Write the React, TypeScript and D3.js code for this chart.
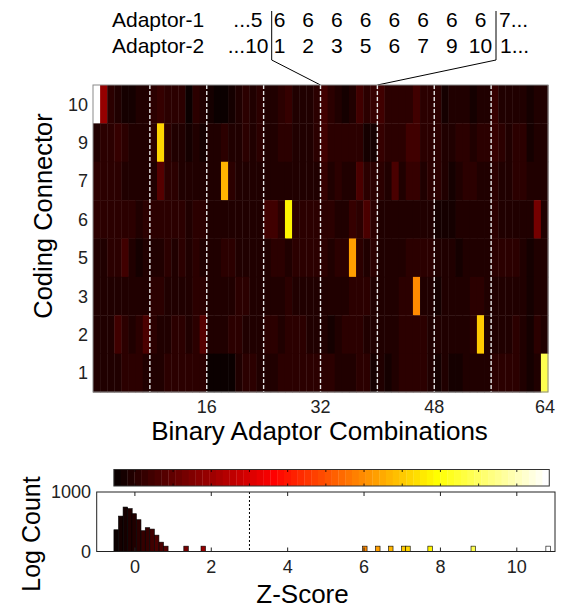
import React from "react";
import * as d3 from "d3";

// rows of the heat map, top to bottom
const rowLabels = ["10", "9", "7", "6", "5", "3", "2", "1"];

// z-scores per row, 64 binary adaptor combinations each
const zRow10 = [10.82, 1.79, 0.15, -0.11, -0.21, -0.21, -0.18, -0.15, 0.15, 0.25, 0.15, 0.02, -0.01, -0.38, 0.12, -0.08,
  -0.28, -0.42, -0.42, -0.28, -0.08, -0.01, -0.11, 0.02, -0.05, -0.05, 0.02, 0.19, -0.11, -0.18, -0.05, -0.01,
  0.42, 0.15, -0.11, -0.35, -0.05, 0.39, -0.01, 0.19, 0.39, 0.15, 0.05, -0.01, 0.12, 0.39, 0.15, -0.01,
  -0.01, -0.28, -0.11, -0.08, -0.11, -0.28, -0.05, -0.11, 0.19, -0.05, -0.05, -0.08, -0.05, -0.35, -0.05, -0.05];
const zRow9 = [-0.05, 0.15, -0.01, 0.19, 0.02, -0.05, -0.05, -0.05, 0.05, 7.15, 0.02, -0.05, -0.11, -0.35, -0.11, -0.32,
  -0.05, -0.05, -0.01, -0.05, -0.11, -0.01, -0.05, 0.05, -0.05, -0.05, 0.05, 0.12, -0.11, -0.05, -0.05, -0.01,
  0.42, 0.05, 0.02, 0.02, -0.01, -0.01, -0.35, -0.35, 0.19, -0.01, -0.01, 0.12, 0.39, 0.42, 0.12, -0.01,
  -0.01, -0.11, -0.08, -0.01, -0.01, -0.08, -0.01, -0.01, 0.19, 0.05, -0.08, -0.01, -0.01, -0.28, -0.05, -0.05];
const zRow7 = [0.09, 0.09, 0.09, 0.09, -0.18, -0.18, -0.18, -0.18, -0.05, 0.74, 0.09, 0.02, -0.11, -0.15, -0.11, -0.15,
  -0.15, -0.05, 6.7, -0.01, -0.15, -0.05, -0.05, -0.05, -0.05, -0.11, -0.11, -0.11, -0.11, -0.05, -0.05, -0.05,
  0.19, -0.05, -0.01, -0.11, -0.05, 0.69, -0.01, 0.05, 0.12, -0.11, 0.59, -0.15, 0.19, 0.19, -0.15, -0.01,
  -0.01, -0.05, -0.28, -0.05, -0.01, 0.02, -0.05, -0.05, -0.01, -0.11, -0.05, -0.01, -0.01, -0.05, -0.05, -0.05];
const zRow6 = [-0.01, -0.01, -0.01, -0.01, -0.01, -0.01, -0.11, -0.01, 0.02, 0.02, 0.02, 0.02, 0.02, -0.15, 0.02, 0.02,
  -0.15, -0.15, -0.15, -0.15, -0.11, -0.05, -0.05, -0.05, 0.39, 0.39, 0.02, 7.73, -0.01, -0.01, -0.01, -0.01,
  0.15, -0.01, -0.15, -0.11, 0.19, -0.01, 0.59, -0.01, -0.05, -0.05, -0.05, -0.11, -0.05, -0.05, -0.05, -0.05,
  -0.21, -0.21, -0.21, -0.05, -0.05, -0.05, -0.05, -0.05, -0.01, -0.05, -0.05, -0.05, -0.05, -0.18, 1.34, -0.05];
const zRow5 = [-0.18, -0.05, -0.01, 0.12, 0.36, -0.05, -0.28, -0.15, -0.05, -0.11, 0.02, -0.11, 0.05, -0.05, 0.02, -0.05,
  -0.11, -0.11, -0.01, 0.12, -0.05, -0.05, -0.11, -0.18, -0.05, 0.02, 0.02, -0.05, -0.01, -0.01, -0.01, -0.01,
  -0.01, -0.05, -0.01, -0.01, 6.36, -0.01, -0.05, -0.01, -0.05, -0.05, -0.05, -0.05, 0.12, 0.02, 0.02, 0.02,
  -0.11, -0.05, -0.05, -0.21, -0.05, -0.05, -0.05, -0.05, -0.01, 0.02, 0.02, 0.02, -0.15, -0.28, -0.05, -0.05];
const zRow3 = [-0.11, -0.11, -0.05, -0.05, -0.05, -0.11, -0.11, -0.11, -0.01, 0.15, -0.05, -0.05, -0.05, -0.11, 0.15, -0.01,
  -0.11, -0.11, -0.11, -0.11, 0.15, 0.02, -0.11, -0.11, -0.15, -0.05, -0.05, 0.02, -0.05, -0.05, -0.05, -0.05,
  -0.05, -0.15, -0.05, -0.05, 0.12, -0.01, 0.15, -0.05, -0.11, -0.11, -0.11, -0.01, 0.15, 6.02, -0.05, -0.15,
  -0.21, -0.05, -0.05, -0.05, -0.05, -0.01, 0.15, -0.11, -0.05, -0.05, -0.05, -0.05, -0.11, -0.28, -0.05, -0.05];
const zRow2 = [-0.11, -0.11, -0.15, 0.42, 0.15, -0.05, 0.12, 0.69, -0.01, -0.05, -0.05, 0.05, 0.12, -0.05, 0.15, 0.79,
  -0.05, -0.15, -0.05, 0.15, 0.12, -0.05, -0.11, -0.15, 0.02, 0.15, -0.05, 0.15, -0.01, 0.15, -0.05, -0.05,
  -0.05, -0.21, -0.05, -0.01, 0.15, -0.01, -0.05, -0.15, -0.05, -0.05, -0.15, -0.01, -0.01, 0.15, -0.01, -0.05,
  -0.05, -0.05, -0.05, -0.05, -0.11, -0.01, 7.04, -0.11, -0.05, -0.05, -0.05, -0.01, -0.05, -0.28, -0.01, -0.05];
const zRow1 = [-0.11, -0.11, -0.11, -0.11, 0.05, 0.05, 0.05, -0.05, -0.11, -0.11, 0.09, 0.02, 0.02, 0.15, 0.15, 0.09,
  -0.38, -0.38, -0.38, -0.38, -0.11, 0.02, 0.02, -0.05, -0.05, -0.11, 0.15, 0.09, -0.01, -0.01, -0.01, -0.01,
  0.15, 0.02, -0.05, -0.11, -0.05, 0.09, -0.01, -0.32, -0.11, -0.28, -0.11, -0.01, 0.15, 0.15, 0.15, -0.11,
  -0.28, -0.05, -0.21, -0.21, -0.05, -0.05, -0.05, -0.05, -0.01, 0.02, 0.02, -0.01, -0.05, -0.28, -0.05, 8.86];

const xTickValues = [16, 32, 48, 64];
const groupBreaks = [8, 16, 24, 32, 40, 48, 56];

// zoomed annotation for Adaptor-1 = 6 (columns 33..40)
const adaptor1Zoom = ["6", "6", "6", "6", "6", "6", "6", "6"];
const adaptor2Zoom = ["1", "2", "3", "5", "6", "7", "9", "10"];

// histogram of z-scores (bin centres, log count)
const histCenters = [-0.49, -0.37, -0.25, -0.13, -0.02, 0.1, 0.22, 0.33, 0.45, 0.57, 0.69, 0.81,
  1.34, 1.79, 6.02, 6.36, 6.7, 7.04, 7.15, 7.73, 8.86, 10.82];
const histLogCounts = [365, 595, 747, 720, 635, 534, 349, 400, 377, 275, 157, 90,
  90, 90, 90, 90, 90, 90, 90, 90, 90, 90];
const zTicks = [0, 2, 4, 6, 8, 10];
const colorbarTicks = [0, 1, 2, 3, 4, 5, 6, 7, 8, 9, 10];

const cMin = -0.55, cMax = 10.85;
const binWidth = 0.118;
const FONT = "'Liberation Sans', Arial, Helvetica, sans-serif";

// matlab-style "hot" colormap, 64 levels
const hot = (z: number) => {
  let i = Math.floor(((z - cMin) / (cMax - cMin)) * 64);
  i = Math.max(0, Math.min(63, i));
  const cl = (v: number) => Math.max(0, Math.min(1, v));
  const r = cl((i + 1) / 24), g = cl((i + 1 - 24) / 24), b = cl((i + 1 - 48) / 16);
  return d3.rgb(r * 255, g * 255, b * 255).formatHex();
};

const App = () => {
  const zRows = [zRow10, zRow9, zRow7, zRow6, zRow5, zRow3, zRow2, zRow1];

  // heat map geometry
  const hm = { left: 93, right: 548, top: 85, bottom: 392 };
  const x = d3.scaleLinear().domain([0, 64]).range([hm.left, hm.right]);
  const y = d3.scaleBand().domain(rowLabels).range([hm.top, hm.bottom]);

  // histogram geometry
  const hg = { left: 96.7, right: 555, top: 492, bottom: 551.5 };
  const zx = d3.scaleLinear().domain([-1, 11]).range([hg.left, hg.right]);
  const cy = d3.scaleLinear().domain([0, 1000]).range([hg.bottom, hg.top]);

  const cb = { top: 469.5, bottom: 486 };
  const cbSteps = d3.range(64);
  const cbStep = (cMax - cMin) / 64;

  const ann = d3.scalePoint<number>().domain(d3.range(8)).range([279.5, 480.5]);
  const brL = 271.7, brR = 496;
  const annSize = 21;

  return (
    <svg width={564} height={608} style={{ position: "absolute", left: 0, top: 0, background: "#fff" }}
      fontFamily={FONT}>
      {/* top annotation */}
      <text x={112} y={27} fontSize={annSize}>Adaptor-1</text>
      <text x={112} y={53} fontSize={annSize}>Adaptor-2</text>
      <text x={262.5} y={27} fontSize={annSize} textAnchor="end">...5</text>
      <text x={268.5} y={53} fontSize={annSize} textAnchor="end">...10</text>
      {adaptor1Zoom.map((d, i) => (
        <text key={"a1" + i} x={ann(i)} y={27} fontSize={annSize} textAnchor="middle">{d}</text>
      ))}
      {adaptor2Zoom.map((d, i) => (
        <text key={"a2" + i} x={ann(i)} y={53} fontSize={annSize} textAnchor="middle">{d}</text>
      ))}
      <text x={499} y={27} fontSize={annSize}>7...</text>
      <text x={500} y={53} fontSize={annSize}>1...</text>
      <polyline points={`${brL},11 ${brL},60 ${x(32)},${hm.top}`} fill="none" stroke="#000" strokeWidth={1} />
      <polyline points={`${brR},11 ${brR},60 ${x(40)},${hm.top}`} fill="none" stroke="#000" strokeWidth={1} />

      {/* heat map */}
      {zRows.map((row, r) =>
        row.map((z, i) => (
          <rect key={r + "-" + i} x={x(i)} y={y(rowLabels[r])} width={x(i + 1) - x(i) + 0.4}
            height={y.bandwidth() + 0.4} fill={hot(z)} />
        ))
      )}
      {groupBreaks.map((b) => (
        <line key={"g" + b} x1={x(b)} x2={x(b)} y1={hm.top} y2={hm.bottom}
          stroke="#e6e6e6" strokeWidth={1.4} strokeDasharray="4,2" />
      ))}
      <rect x={hm.left} y={hm.top} width={hm.right - hm.left} height={hm.bottom - hm.top}
        fill="none" stroke="#8a8a8a" strokeWidth={1} />
      {rowLabels.map((d) => (
        <text key={"yl" + d} x={88} y={(y(d) as number) + y.bandwidth() / 2} dy="0.36em"
          fontSize={18} textAnchor="end" fill="#222">{d}</text>
      ))}
      {xTickValues.map((t) => (
        <text key={"xt" + t} x={x(t) - (t === 64 ? 3 : 0)} y={413} fontSize={18} textAnchor="middle" fill="#222">{t}</text>
      ))}
      <text x={319.5} y={440} fontSize={26} textAnchor="middle">Binary Adaptor Combinations</text>
      <text transform={`translate(52,216) rotate(-90)`} fontSize={25.5} textAnchor="middle">Coding Connector</text>

      {/* colour bar */}
      {cbSteps.map((s) => (
        <rect key={"cb" + s} x={zx(cMin + s * cbStep)} y={cb.top}
          width={zx(cMin + (s + 1) * cbStep) - zx(cMin + s * cbStep) + 0.3}
          height={cb.bottom - cb.top} fill={hot(cMin + (s + 0.5) * cbStep)} />
      ))}
      {colorbarTicks.map((t) => (
        <g key={"cbt" + t}>
          <line x1={zx(t)} x2={zx(t)} y1={cb.top} y2={cb.top + 2.5} stroke="#000" strokeWidth={0.8} />
          <line x1={zx(t)} x2={zx(t)} y1={cb.bottom} y2={cb.bottom - 2.5} stroke="#000" strokeWidth={0.8} />
        </g>
      ))}
      <rect x={zx(cMin)} y={cb.top} width={zx(cMax) - zx(cMin)} height={cb.bottom - cb.top}
        fill="none" stroke="#333" strokeWidth={1} />

      {/* histogram */}
      {histCenters.map((c, i) => (
        <rect key={"h" + i} x={zx(c - binWidth / 2)} y={cy(histLogCounts[i])}
          width={zx(c + binWidth / 2) - zx(c - binWidth / 2)} height={hg.bottom - cy(histLogCounts[i])}
          fill={hot(c)} stroke="#000" strokeWidth={0.6} />
      ))}
      <line x1={zx(3)} x2={zx(3)} y1={hg.top} y2={hg.bottom} stroke="#000" strokeWidth={1} strokeDasharray="2,2" />
      <rect x={hg.left} y={hg.top} width={hg.right - hg.left} height={hg.bottom - hg.top}
        fill="none" stroke="#222" strokeWidth={1} />
      {zTicks.map((t) => (
        <g key={"zt" + t}>
          <line x1={zx(t)} x2={zx(t)} y1={hg.bottom} y2={hg.bottom - 4} stroke="#222" />
          <line x1={zx(t)} x2={zx(t)} y1={hg.top} y2={hg.top + 4} stroke="#222" />
          <text x={zx(t)} y={573} fontSize={18} textAnchor="middle" fill="#222">{t}</text>
        </g>
      ))}
      <text x={91} y={cy(1000)} dy="0.36em" fontSize={18} textAnchor="end" fill="#222">1000</text>
      <text x={91} y={cy(0)} dy="0.36em" fontSize={18} textAnchor="end" fill="#222">0</text>
      <text x={302.5} y={603} fontSize={26} textAnchor="middle">Z-Score</text>
      <text transform={`translate(40,534) rotate(-90)`} fontSize={25} textAnchor="middle">Log Count</text>
    </svg>
  );
};

export default App;
